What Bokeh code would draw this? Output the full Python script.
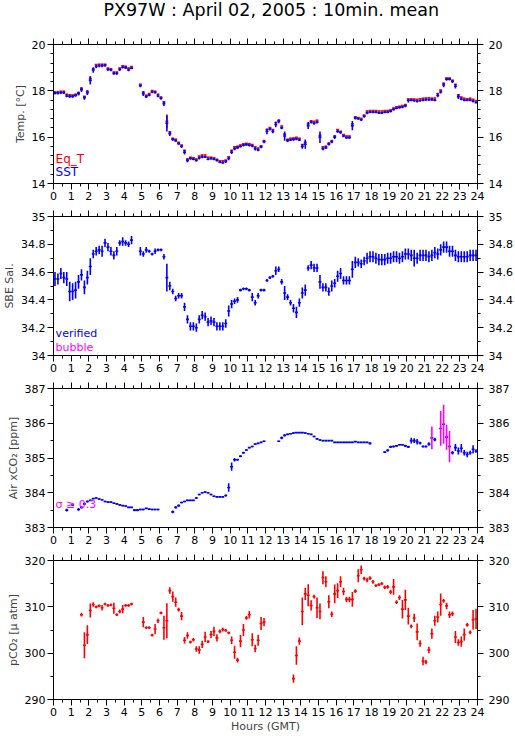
import numpy as np
from bokeh.plotting import figure
from bokeh.models import FixedTicker, LinearAxis, Range1d, Label
from bokeh.layouts import column
from bokeh.core.properties import value
from bokeh.embed import file_html
from bokeh.resources import INLINE

N = None
TITLE = "PX97W : April 02, 2005 : 10min. mean"
# ---------------- data: 10-minute means, slot k covers hour k/6 .. (k+1)/6 ----------------
sst = [17.9, 17.9, 17.92, 17.92, 17.78, 17.76,
       17.76, 17.8, 17.88, 18.05, 17.7, 17.92,
       18.45, 18.9, 19.05, 19.08, 19.08, 19.1,
       18.92, 18.9, 18.75, 18.75, 18.92, 19.02,
       19.0, 18.9, 18.98, N, N, 18.22,
       17.88, 17.75, 17.82, 17.95, 17.93, 17.78,
       17.68, 17.45, 16.6, 16.15, 15.9, 15.85,
       15.72, 15.6, 15.35, 15.0, 15.08, 15.05,
       15.0, 15.1, 15.15, 15.15, 15.05, 15.08,
       15.05, 15.0, 14.92, 14.9, 14.95, 15.08,
       15.35, 15.5, 15.55, 15.6, 15.65, 15.68,
       15.65, 15.62, 15.5, 15.45, 15.58, 15.8,
       16.25, 16.35, 16.25, 16.55, 16.68, 16.4,
       16.05, 15.85, 15.88, 15.9, 15.92, 15.88,
       15.6, 15.7, 16.5, 16.65, 16.6, 16.65,
       16.0, 15.5, 15.55, 15.7, 15.8, 16.0,
       16.25, 16.2, 16.05, 15.98, 15.98, 16.5,
       16.82, 16.8, 16.75, 16.9, 17.05, 17.08,
       17.08, 17.08, 17.05, 17.05, 17.08, 17.08,
       17.12, 17.2, 17.25, 17.28, 17.3, 17.35,
       17.58, 17.6, 17.58, 17.55, 17.58, 17.6,
       17.62, 17.62, 17.62, 17.6, 17.8, 17.95,
       18.25, 18.5, 18.5, 18.4, 18.2, 17.75,
       17.65, 17.6, 17.6, 17.6, 17.55, 17.5]
sst_sd = [.06, .06, .06, .06, .06, .06,
          .06, .06, .08, .1, .08, .1,
          .18, .12, .08, .06, .06, .06,
          .06, .06, .06, .06, .06, .06,
          .06, .06, .05, 0, 0, .06,
          .1, .06, .05, .05, .05, .06,
          .06, .1, .35, .1, .06, .05,
          .05, .06, .1, .08, .05, .05,
          .05, .06, .06, .05, .05, .05,
          .05, .05, .05, .05, .06, .08,
          .08, .06, .05, .05, .05, .05,
          .05, .06, .08, .06, .06, .06,
          .12, .06, .08, .12, .08, .06,
          .2, .06, .05, .05, .05, .05,
          .1, .2, .15, .06, .06, .06,
          .25, .06, .06, .06, .06, .08,
          .06, .05, .05, .05, .05, .2,
          .06, .05, .05, .06, .06, .05,
          .05, .05, .05, .05, .05, .05,
          .05, .05, .05, .05, .05, .06,
          .08, .05, .05, .05, .05, .05,
          .05, .05, .05, .05, .08, .06,
          .1, .06, .05, .06, .1, .1,
          .06, .05, .05, .05, .05, .05]
eqt = [17.95, 17.96, 17.98, 17.98, 17.85, 17.83,
       17.82, 17.85, 17.93, 18.11, 17.76, 17.98,
       18.53, 18.95, 19.13, 19.15, 19.15, 19.15,
       18.98, 18.95, 18.81, 18.81, 18.98, 19.08,
       19.06, 18.98, 19.05, N, N, 18.28,
       17.95, 17.81, 17.88, 18.01, 17.98, 17.85,
       17.73, 17.53, 16.68, 16.23, 15.95, 15.91,
       15.78, 15.66, 15.43, 15.06, 15.13, 15.11,
       15.06, 15.18, 15.23, 15.23, 15.13, 15.13,
       15.11, 15.05, 14.98, 14.98, 15.01, 15.15,
       15.43, 15.58, 15.61, 15.66, 15.71, 15.73,
       15.71, 15.68, 15.58, 15.53, 15.63, 15.85,
       16.33, 16.41, 16.33, 16.63, 16.73, 16.48,
       16.13, 15.91, 15.95, 15.96, 15.99, 15.95,
       15.68, 15.78, 16.58, 16.71, 16.68, 16.73,
       16.08, 15.58, 15.61, 15.75, 15.85, 16.05,
       16.33, 16.25, 16.11, 16.05, 16.05, 16.58,
       16.88, 16.85, 16.81, 16.95, 17.13, 17.15,
       17.15, 17.15, 17.13, 17.13, 17.15, 17.15,
       17.18, 17.26, 17.31, 17.33, 17.36, 17.41,
       17.65, 17.66, 17.65, 17.63, 17.66, 17.68,
       17.69, 17.7, 17.68, 17.69, 17.88, 18.03,
       18.33, 18.55, 18.55, 18.46, 18.28, 17.83,
       17.73, 17.68, 17.66, 17.68, 17.63, 17.58]
eqt_sd = [.02] * 12 + [.1] + [.02] * 25 + [.3] + [.02] * 105

sal = [34.55, 34.55, 34.59, 34.56, 34.55, 34.46,
       34.46, 34.47, 34.53, 34.58, 34.49, 34.56,
       34.64, 34.73, 34.75, 34.76, 34.75, 34.81,
       34.78, 34.75, 34.72, 34.75, 34.81, 34.82,
       34.81, 34.8, 34.83, N, N, 34.75,
       34.73, 34.76, 34.75, 34.73, 34.75, 34.76,
       34.76, 34.71, 34.56, 34.5, 34.46, 34.41,
       34.43, 34.43, 34.35, 34.26, 34.21, 34.21,
       34.2, 34.26, 34.29, 34.28, 34.24, 34.25,
       34.24, 34.21, 34.21, 34.21, 34.23, 34.32,
       34.37, 34.39, 34.4, 34.47, 34.48, 34.48,
       34.47, 34.42, 34.38, 34.43, 34.47, 34.47,
       34.54, 34.56, 34.57, 34.61, 34.62, 34.53,
       34.45, 34.42, 34.38, 34.34, 34.31, 34.38,
       34.45, 34.47, 34.63, 34.65, 34.63, 34.63,
       34.53, 34.49, 34.49, 34.46, 34.5, 34.52,
       34.57, 34.59, 34.54, 34.54, 34.54, 34.62,
       34.67, 34.67, 34.66, 34.68, 34.7, 34.71,
       34.71, 34.7, 34.69, 34.69, 34.69, 34.7,
       34.7, 34.71, 34.71, 34.7, 34.71, 34.73,
       34.73, 34.72, 34.7, 34.7, 34.72, 34.72,
       34.72, 34.71, 34.72, 34.74, 34.73, 34.76,
       34.78, 34.78, 34.75, 34.75, 34.72, 34.71,
       34.71, 34.71, 34.71, 34.72, 34.72, 34.72]
sal_sd = [.05, .04, .04, .04, .05, .07,
          .06, .06, .05, .04, .05, .05,
          .06, .03, .03, .03, .04, .03,
          .03, .03, .03, .03, .02, .03,
          .02, .02, .03, 0, 0, .03,
          .02, .02, .01, .01, .02, .01,
          .01, .02, .1, .03, .02, .02,
          .02, .02, .03, .03, .03, .03,
          .03, .03, .03, .03, .03, .03,
          .03, .03, .03, .03, .03, .04,
          .03, .02, .02, .01, .01, .01,
          .01, .03, .02, .02, .01, .01,
          .01, .01, .01, .03, .02, .02,
          .05, .02, .02, .03, .04, .03,
          .04, .04, .02, .03, .03, .03,
          .05, .03, .03, .03, .04, .03,
          .04, .04, .03, .03, .03, .06,
          .04, .03, .03, .03, .04, .04,
          .04, .04, .04, .04, .04, .04,
          .04, .04, .04, .04, .04, .04,
          .04, .04, .06, .04, .04, .04,
          .04, .04, .04, .04, .04, .04,
          .04, .04, .04, .04, .04, .04,
          .04, .04, .04, .04, .04, .04]

xco2 = [N, N, N, N, 383.5, N,
        383.65, N, 383.52, 383.58, 383.68, 383.75,
        383.78, 383.83, 383.85, 383.82, 383.8, 383.75,
        383.73, 383.73, 383.7, 383.68, 383.65, 383.63,
        383.62, 383.58, 383.58, 383.5, 383.5, 383.52,
        383.52, 383.55, 383.53, 383.52, 383.52, 383.52,
        N, N, N, N, 383.45, 383.58,
        383.63, 383.72, 383.75, 383.78, 383.78, 383.78,
        383.85, 383.95, 384.0, 384.02, 384.0, 383.95,
        383.9, 383.88, 383.88, 383.88, 383.92, 384.15,
        384.75, 384.95, 384.95, 385.05, 385.15, 385.23,
        385.3, 385.33, 385.4, 385.42, 385.45, 385.48,
        N, N, N, N, 385.48, 385.58,
        385.65, 385.68, 385.7, 385.72, 385.73, 385.73,
        385.73, 385.72, 385.7, 385.68, 385.62, 385.55,
        385.52, 385.5, 385.5, 385.5, 385.5, 385.45,
        385.45, 385.45, 385.45, 385.45, 385.45, 385.45,
        385.47, 385.45, 385.45, 385.45, 385.45, 385.42,
        N, N, N, N, 385.17, 385.22,
        385.32, 385.33, 385.35, 385.38, 385.38, 385.35,
        385.32, 385.5, 385.5, 385.47, 385.43, 385.33,
        385.33, 385.4, 385.58, 385.53, N, 385.85,
        385.97, 385.6, 385.33, 385.15, 385.3, 385.2,
        385.28, 385.15, 385.1, 385.15, 385.25, 385.2]
xco2_sd = [0, 0, 0, 0, .04, 0,
           .03, 0, .04, .03, .03, .03,
           .02, .02, .02, .02, .02, .02,
           .02, .02, .02, .02, .02, .02,
           .02, .02, .02, .03, .03, .02,
           .02, .02, .02, .02, .02, .02,
           0, 0, 0, 0, .04, .03,
           .03, .02, .02, .02, .02, .02,
           .03, .02, .02, .02, .02, .02,
           .02, .02, .02, .02, .03, .12,
           .12, .05, .03, .03, .03, .02,
           .02, .02, .02, .02, .02, .02,
           0, 0, 0, 0, .02, .04,
           .03, .02, .02, .02, .02, .02,
           .02, .02, .02, .02, .02, .02,
           .02, .02, .02, .02, .02, .02,
           .02, .02, .02, .02, .02, .02,
           .02, .02, .02, .02, .02, .03,
           0, 0, 0, 0, .02, .03,
           .03, .03, .02, .02, .02, .03,
           .03, .08, .07, .08, .04, .03,
           .03, .05, .33, .05, 0, .5,
           .56, .36, .45, .05, .1, .1,
           .12, .08, .08, .06, .12, .05]

pco2 = [N, N, N, N, N, N,
        N, N, N, 308.3, 301.7, 304.0,
        309.2, 310.5, 310.0, 310.2, 309.8, 310.6,
        310.3, 310.4, 309.7, 308.3, 309.0, 309.5,
        310.3, 310.3, 310.6, N, N, N,
        306.7, 305.5, 305.5, 303.9, 305.2, 307.0,
        308.7, 305.5, 307.0, 313.5, 312.2, 311.0,
        309.4, 308.0, 302.8, 303.8, 302.4, 302.9,
        300.9, 300.7, 301.9, 303.5, 302.5, 304.0,
        304.7, 303.3, 304.7, 305.1, 304.9, 304.4,
        302.8, 300.2, 298.5, 302.6, 305.0, 307.6,
        308.3, 302.9, 301.0, 302.8, 306.4, 306.7,
        N, N, N, N, N, N,
        N, N, N, 294.5, 299.5, 302.6,
        309.0, 312.8, 312.5, 310.3, 312.2, 309.8,
        309.0, 316.3, 315.4, 311.1, 308.4, 312.8,
        313.5, 315.4, 313.3, 311.6, 311.6, 311.6,
        313.4, 316.7, 318.0, 316.1, 315.8, 316.2,
        315.4, 314.6, 314.8, 315.0, 314.2, 314.3,
        313.2, 314.3, 311.0, 312.0, 309.5, 311.5,
        308.0, 305.8, 307.6, 304.6, 302.1, 298.3,
        298.1, 300.7, 304.2, 307.0, 307.8, 310.5,
        311.3, 310.2, 308.3, 308.5, 303.5, 302.3,
        302.5, 304.0, 306.1, 304.5, 307.2, 307.4]
pco2_sd = [0, 0, 0, 0, 0, 0,
           0, 0, 0, .4, 2.8, 2.0,
           1.5, .5, .3, .3, .6, .3,
           .3, .3, 1.2, .3, .4, .9,
           .3, .3, .3, 0, 0, 0,
           1.1, .3, .3, .3, 1.1, .5,
           .3, 2.6, 3.8, .7, 1.1, 1.0,
           .4, .9, .7, .7, .3, .4,
           .6, .8, .8, 1.1, .3, .8,
           1.0, .8, .4, .4, .3, .3,
           .8, 1.4, .5, 1.3, 1.3, .4,
           .8, 1.4, .8, 1.2, 1.4, .9,
           0, 0, 0, 0, 0, 0,
           0, 0, 0, .9, 2.0, .8,
           3.0, 1.3, 2.4, 1.1, .4, 2.2,
           1.7, 1.4, 1.2, 1.4, .6, 2.0,
           1.6, 1.2, .8, .6, .6, 1.6,
           .4, 1.4, .9, .4, .5, .4,
           .4, .3, .3, .3, .4, .4,
           .5, 1.7, .4, .5, 2.0, 2.2,
           1.8, .4, .9, 1.8, .7, .9,
           .5, .7, 1.1, 1.1, 1.2, 2.4,
           .4, .7, .7, .5, 1.3, .7,
           1.1, 1.3, .4, .4, 2.1, 2.2]

x_ticks = list(range(0, 25))
x_minor = [h + 0.5 for h in range(0, 24)]
temp_ticks = [14, 16, 18, 20]
sal_ticks = [34, 34.2, 34.4, 34.6, 34.8, 35]
xco2_ticks = [383, 384, 385, 386, 387]
pco2_ticks = [290, 300, 310, 320]

SLOT = 1.0 / 6.0
FONT = "DejaVu Sans"
RED, BLUE, MAG = "#ff0000", "#0000ff", "#ff00ff"
W = 515


def minor_list(lo, hi, step):
    out, v = [], lo
    while v <= hi + 1e-9:
        out.append(round(v, 4))
        v += step
    return out


def style_axis(ax, labels=True):
    ax.axis_line_color = "black"
    ax.major_tick_line_color = "black"
    ax.minor_tick_line_color = "black"
    ax.major_tick_out = 6
    ax.major_tick_in = 0
    ax.minor_tick_out = 3
    ax.minor_tick_in = 0
    ax.major_label_text_font = FONT
    ax.major_label_standoff = 2
    if labels:
        ax.major_label_text_color = "black"
        ax.major_label_text_font_size = "11px"
    else:
        ax.major_label_text_color = None
        ax.major_label_text_font_size = "1px"
        ax.major_label_standoff = 0
    ax.axis_label_text_font = FONT
    ax.axis_label_text_font_size = "11px"
    ax.axis_label_text_font_style = "normal"
    ax.axis_label_standoff = 2


def panel(ylo, yhi, yt, ymin_step, ylabel, height, top, bottom, xlabel=None):
    p = figure(width=W, height=height, x_range=Range1d(0, 24), y_range=Range1d(ylo, yhi),
               output_backend="svg", toolbar_location=None,
               min_border_left=51, min_border_right=37,
               min_border_top=top, min_border_bottom=bottom)
    p.grid.visible = False
    p.outline_line_color = "black"
    p.background_fill_color = "white"
    p.border_fill_color = "white"
    xt = FixedTicker(ticks=x_ticks, minor_ticks=x_minor)
    ytk = FixedTicker(ticks=yt, minor_ticks=minor_list(ylo, yhi, ymin_step))
    p.xaxis.ticker = xt
    p.yaxis.ticker = ytk
    style_axis(p.xaxis[0])
    style_axis(p.yaxis[0])
    p.yaxis.axis_label = ylabel
    if xlabel:
        p.xaxis.axis_label = xlabel
        p.xaxis.axis_label_standoff = 1
    top_ax = LinearAxis(ticker=xt)
    style_axis(top_ax, labels=False)
    p.add_layout(top_ax, "above")
    right_ax = LinearAxis(ticker=ytk)
    style_axis(right_ax)
    right_ax.axis_label = None
    right_ax.major_label_standoff = 5
    p.add_layout(right_ax, "right")
    return p


def crosses(p, vals, sds, color, vcolor=None, vthresh=None):
    hx0, hx1, hy, vx, vy0, vy1, vc = [], [], [], [], [], [], []
    for k, (v, s) in enumerate(zip(vals, sds)):
        if v is None:
            continue
        t = k * SLOT + SLOT / 2
        hx0.append(k * SLOT)
        hx1.append((k + 1) * SLOT)
        hy.append(v)
        vx.append(t)
        vy0.append(v - s)
        vy1.append(v + s)
        if vthresh is not None and s >= vthresh:
            vc.append(vcolor)
        else:
            vc.append(color)
    p.segment(x0=hx0, x1=hx1, y0=hy, y1=hy, line_color=color, line_width=1.6)
    p.segment(x0=vx, x1=vx, y0=vy0, y1=vy1, line_color=vc, line_width=1.6)


def label(p, x, y, text, color, size="11px"):
    p.add_layout(Label(x=x, y=y, text=text, text_color=color, text_font=FONT,
                       text_font_size=size, text_baseline="top"))


# title strip: a bare figure whose data units are pixels (y measured from the top)
pt = figure(width=W, height=30, x_range=Range1d(0, W), y_range=Range1d(30, 0),
            output_backend="svg", toolbar_location=None, min_border=0,
            x_axis_location=None, y_axis_location=None)
pt.grid.visible = False
pt.outline_line_color = None
pt.background_fill_color = "white"
pt.border_fill_color = "white"
pt.text(x=[264.5], y=[9.5], text=[TITLE], text_align="center", text_baseline="alphabetic",
        text_font=value(FONT), text_font_size="17.5px", text_color="black")

p1 = panel(14, 20, temp_ticks, 0.4, "Temp. [°C]", 175, 14, 22)
crosses(p1, eqt, eqt_sd, RED)
crosses(p1, sst, sst_sd, BLUE)
label(p1, 0.12, 15.36, "Eq_T", RED, "12px")
label(p1, 0.12, 14.8, "SST", BLUE, "12px")

p2 = panel(34, 35, sal_ticks, 0.1, "SBE Sal.", 172, 11, 22)
crosses(p2, sal, sal_sd, BLUE)
label(p2, 0.12, 34.205, "verified", BLUE)
label(p2, 0.12, 34.105, "bubble", MAG)

p3 = panel(383, 387, xco2_ticks, 0.5, "Air xCO₂ [ppm]", 172, 11, 22)
crosses(p3, xco2, xco2_sd, BLUE, MAG, 0.3)
label(p3, 0.12, 383.86, "σ ≥ 0.3", MAG)

p4 = panel(290, 320, pco2_ticks, 5, "pCO₂ [μ atm]", 188, 11, 38, xlabel="Hours (GMT)")
crosses(p4, pco2, pco2_sd, RED)

layout = column(pt, p1, p2, p3, p4)
open("out.html", "w").write(file_html(layout, INLINE))
